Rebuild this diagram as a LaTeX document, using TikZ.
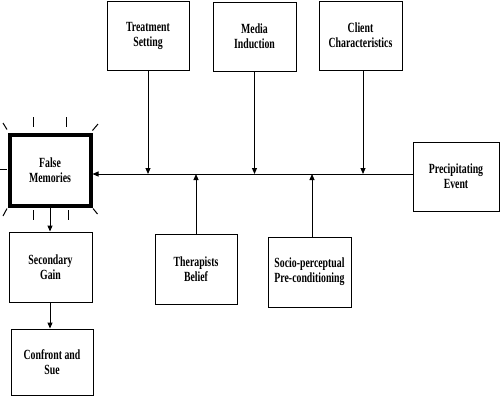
\documentclass[tikz,border=0pt]{standalone}
\usepackage{fontspec}
\setmainfont{Liberation Serif}[FakeStretch=0.7]
\usetikzlibrary{arrows.meta}
\begin{document}
\begin{tikzpicture}[x=1pt,y=-1pt,
  box/.style={draw, line width=1pt, inner sep=0pt, align=center,
    font=\bfseries\fontsize{14}{15}\selectfont},
  arr/.style={line width=1pt, -{Triangle[length=6pt,width=5pt]}},
  ray/.style={line width=1pt}]
\useasboundingbox (0,0) rectangle (500,400);
\fill[white] (0,0) rectangle (500,400);
\node[box, minimum width=82pt, minimum height=69pt] (ts) at (148,35.5) {Treatment\\Setting};
\node[box, minimum width=83pt, minimum height=69pt] (mi) at (254.5,36.5) {Media\\Induction};
\node[box, minimum width=83pt, minimum height=69pt] (cc) at (360.5,35.5) {Client\\Characteristics};
\node[box, line width=4pt, minimum width=81pt, minimum height=71pt] (fm) at (50,170.5) {False\\Memories};
\node[box, minimum width=83pt, minimum height=70pt] (sg) at (50.5,267) {Secondary\\Gain};
\node[box, minimum width=82pt, minimum height=66pt] (cs) at (52,362) {Confront and\\Sue};
\node[box, minimum width=82pt, minimum height=70pt] (tb) at (196,269) {Therapists\\Belief};
\node[box, minimum width=83pt, minimum height=70pt] (sp) at (309.5,272) {Socio-perceptual\\Pre-conditioning};
\node[box, minimum width=86pt, minimum height=69pt] (pe) at (456,176.5) {Precipitating\\Event};
\coordinate (m) at (0,174);
% main line
\draw[arr] (pe.west |- m) -- (fm.east |- m);
% top causes
\draw[arr] (ts.south) -- (ts.south |- m);
\draw[arr] (mi.south) -- (mi.south |- m);
\draw[arr] ([xshift=2.5pt]cc.south) -- ([xshift=2.5pt]cc.south |- m);
% bottom causes
\draw[arr] (tb.north) -- (tb.north |- m);
\draw[arr] ([xshift=2.5pt]sp.north) -- ([xshift=2.5pt]sp.north |- m);
% consequences
\draw[arr] (fm.south) -- (fm.south |- sg.north);
\draw[arr] ([xshift=-0.5pt]sg.south) -- ([xshift=-0.5pt]sg.south |- cs.north);
% glow rays around False Memories
\draw[ray] (33,117) -- (33,127);
\draw[ray] (66,117) -- (66,127);
\draw[ray] (33,210) -- (33,220);
\draw[ray] (68,210) -- (68,220);
\draw[ray] (0,169) -- (7,169);
\draw[ray] (3,123) -- (7,129.5);
\draw[ray] (92.5,130.5) -- (98,124);
\draw[ray] (7,208.5) -- (3,216);
\draw[ray] (93,208.5) -- (97.5,214);
\end{tikzpicture}
\end{document}
